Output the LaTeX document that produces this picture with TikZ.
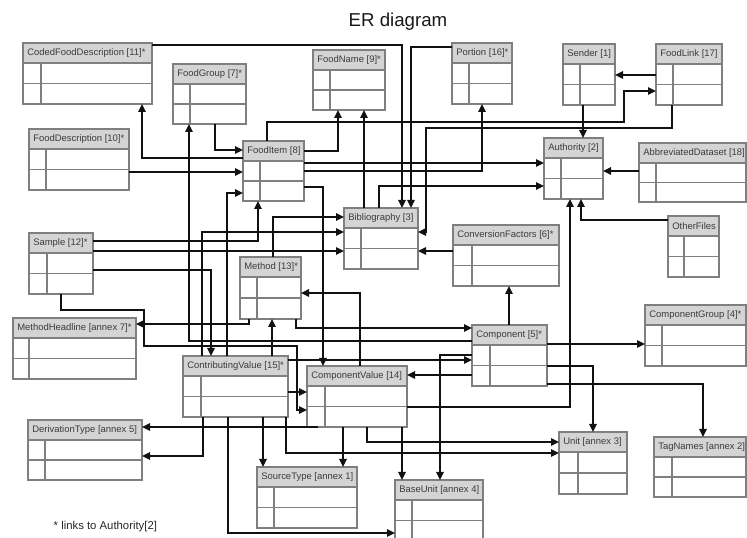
\documentclass[tikz,border=0pt]{standalone}
\usepackage{fontspec}
\setmainfont{Liberation Sans}
\usetikzlibrary{arrows.meta,fit}
\definecolor{hdr}{HTML}{D4D4D4}
\definecolor{bord}{HTML}{7F7F7F}
\definecolor{lbltext}{HTML}{3C3C3C}
\definecolor{ln}{HTML}{111111}
\tikzset{
  tblline/.style={draw=bord, line width=0.9pt},
  hdrfill/.style={fill=hdr},
  lbl/.style={font=\fontsize{7.1}{8}\selectfont, text=lbltext, inner sep=0pt, anchor=west},
  conn/.style={draw=ln, line width=1.3pt, -{Triangle[length=6pt,width=5.5pt]}},
}
% name, x1, y1, x2, y2, divider x, label
\newcommand\ertbl[7]{%
  \fill[hdrfill] (#2,#3) rectangle (#4,#3+20);
  \draw[tblline] (#2,#3+20) -- (#4,#3+20);
  \draw[tblline] (#2,{(#3+20+#5)/2}) -- (#4,{(#3+20+#5)/2});
  \draw[tblline] (#6,#3+20) -- (#6,#5);
  \draw[tblline] (#2,#3) rectangle (#4,#5);
  \node[fit={(#2,#3)(#4,#5)}, inner sep=0pt, outer sep=0pt] (#1) {};
  \node[lbl] (#1-l) at (#2+4,#3+10) {#7};
}
\begin{document}
\begin{tikzpicture}[x=0.75pt,y=-0.75pt]
\useasboundingbox (0,0) rectangle (747,538);
\clip (0,0) rectangle (747,538);

\node[font=\fontsize{14}{16}\selectfont, text=black!90] (title) at (398,22) {ER diagram};
\node[anchor=west, font=\fontsize{8.5}{10}\selectfont, text=black!85] (note) at (49,527) {* links to Authority[2]};

\ertbl{cfd}{23}{43}{152}{104}{41}{CodedFoodDescription [11]*}
\ertbl{fg}{173}{64}{246}{124}{190}{FoodGroup [7]*}
\ertbl{fd}{29}{129}{129}{190}{46}{FoodDescription [10]*}
\ertbl{fn}{313}{50}{385}{110}{330}{FoodName [9]*}
\ertbl{por}{452}{43}{512}{104}{469}{Portion [16]*}
\ertbl{snd}{563}{44}{615}{105}{580}{Sender [1]}
\ertbl{fl}{656}{44}{722}{105}{673}{FoodLink [17]}
\ertbl{fi}{243}{141}{304}{201}{260}{FoodItem [8]}
\ertbl{auth}{544}{138}{603}{199}{561}{Authority [2]}
\ertbl{abd}{639}{143}{746}{202}{656}{AbbreviatedDataset [18]}
\ertbl{bib}{344}{208}{418}{269}{361}{Bibliography [3]}
\ertbl{cf}{453}{225}{559}{286}{472}{ConversionFactors [6]*}
\ertbl{of}{668}{216}{719}{277}{684}{OtherFiles}
\ertbl{smp}{29}{233}{93}{294}{47}{Sample [12]*}
\ertbl{meth}{240}{257}{301}{319}{257}{Method [13]*}
\ertbl{mh}{13}{318}{136}{379}{29}{MethodHeadline [annex 7]*}
\ertbl{cg}{645}{305}{746}{366}{662}{ComponentGroup [4]*}
\ertbl{comp}{472}{325}{547}{386}{490}{Component [5]*}
\ertbl{cvf}{183}{356}{288}{417}{201}{ContributingValue [15]*}
\ertbl{cv}{307}{366}{407}{427}{325}{ComponentValue [14]}
\ertbl{dt}{28}{420}{142}{480}{45}{DerivationType [annex 5]}
\ertbl{st}{257}{467}{357}{528}{274}{SourceType [annex 1]}
\ertbl{bu}{395}{480}{483}{541}{412}{BaseUnit [annex 4]}
\ertbl{unit}{559}{432}{627}{494}{578}{Unit [annex 3]}
\ertbl{tag}{654}{437}{746}{497}{672}{TagNames [annex 2]}

% connectors
\draw[conn] (cfd.east |- 0,45) -| (bib.north -| 402,0);
\draw[conn] (por.west |- 0,47) -| (bib.north -| 411,0);
\draw[conn] (fd.east |- 0,172) -- (fi.west |- 0,172);
\draw[conn] (fi.west |- 0,158) -| (cfd.south -| 142,0);
\draw[conn] (fg.south -| 215,0) |- (fi.west |- 0,150);
\draw[conn] (comp.west |- 0,341) -| (fg.south -| 189,0);
\draw[conn] (fi.east |- 0,151) -| (fn.south -| 338,0);
\draw[conn] (bib.north -| 364,0) -- (fn.south -| 364,0);
\draw[conn] (fi.north -| 267,0) |- (624,122) |- (fl.west |- 0,91);
\draw[conn] (fl.south -| 672,0) |- (426,128) -- (426,232) -- (bib.east |- 0,232);
\draw[conn] (snd.south -| 583,0) -- (auth.north -| 583,0);
\draw[conn] (fl.west |- 0,75) -- (snd.east |- 0,75);
\draw[conn] (abd.west |- 0,171) -- (auth.east |- 0,171);
\draw[conn] (of.west |- 0,220) -| (auth.south -| 581,0);
\draw[conn] (cv.east |- 0,407) -| (auth.south -| 570,0);
\draw[conn] (fi.east |- 0,163) -- (auth.west |- 0,163);
\draw[conn] (fi.east |- 0,171) -| (por.south -| 482,0);
\draw[conn] (bib.north -| 379,0) |- (auth.west |- 0,186);
\draw[conn] (meth.north -| 273,0) |- (bib.west |- 0,217);
\draw[conn] (cvf.north -| 202,0) |- (bib.west |- 0,232);
\draw[conn] (smp.east |- 0,251) -- (bib.west |- 0,251);
\draw[conn] (smp.east |- 0,241) -| (fi.south -| 258,0);
\draw[conn] (cvf.north -| 227,0) |- (fi.west |- 0,193);
\draw[conn] (smp.east |- 0,270) -| (cvf.north -| 211,0);
\draw[conn] (smp.south -| 61,0) |- (144,310) |- (297,346) |- (cv.west |- 0,410);
\draw[conn] (cf.west |- 0,251) -- (bib.east |- 0,251);
\draw[conn] (comp.north -| 509,0) -- (cf.south -| 509,0);
\draw[conn] (comp.east |- 0,344) -- (cg.west |- 0,344);
\draw[conn] (comp.east |- 0,366) -| (unit.north -| 593,0);
\draw[conn] (comp.east |- 0,384) -| (tag.north -| 703,0);
\draw[conn] (comp.west |- 0,375) -- (cv.east |- 0,375);
\draw[conn] (comp.west |- 0,355) -| (bu.north -| 440,0);
\draw[conn] (cvf.east |- 0,360) -- (comp.west |- 0,360);
\draw[conn] (cvf.east |- 0,392) -- (cv.west |- 0,392);
\draw[conn] (cv.south -| 402,0) -- (bu.north -| 402,0);
\draw[conn] (cv.south -| 343,0) -- (st.north -| 343,0);
\draw[conn] (cvf.south -| 263,0) -- (st.north -| 263,0);
\draw[conn] (cv.south -| 367,0) |- (unit.west |- 0,442);
\draw[conn] (cvf.south -| 286,0) |- (unit.west |- 0,453);
\draw[conn] (cv.south -| 318,0) -- (dt.east |- 0,427);
\draw[conn] (cvf.south -| 203,0) |- (dt.east |- 0,456);
\draw[conn] (cvf.south -| 228,0) |- (bu.west |- 0,533);
\draw[conn] (cvf.north -| 272,0) -- (meth.south -| 272,0);
\draw[conn] (meth.south -| 296,0) |- (comp.west |- 0,328);
\draw[conn] (cv.north -| 360,0) |- (meth.east |- 0,293);
\draw[conn] (fi.east |- 0,187) -| (cv.north -| 323,0);
\draw[conn] (meth.south -| 249,0) |- (mh.east |- 0,324);
\end{tikzpicture}
\end{document}
